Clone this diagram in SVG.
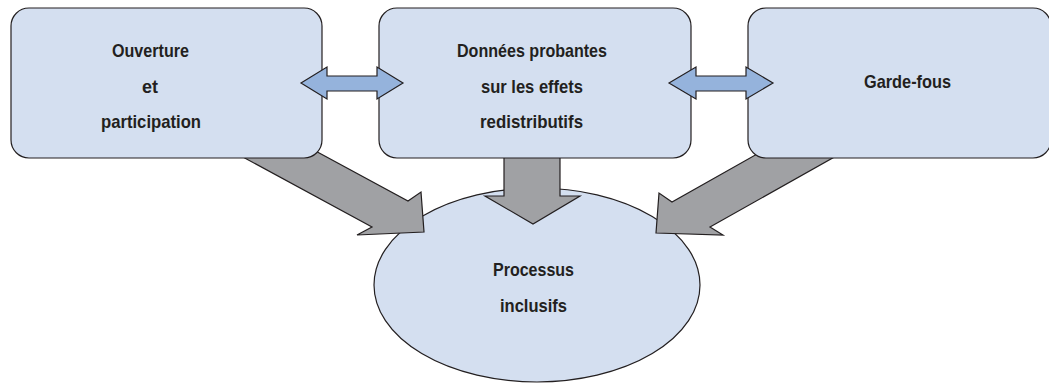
<svg xmlns="http://www.w3.org/2000/svg" width="1049" height="383" viewBox="0 0 1049 383">
  <style>
    .node { fill: #d4dff0; stroke: #231f20; stroke-width: 1.2; }
    .flow { fill: #a0a1a4; stroke: #231f20; stroke-width: 1.2; stroke-linejoin: miter; }
    .link { fill: #95b3dc; stroke: #231f20; stroke-width: 1.2; }
    .label { font-family: "Liberation Sans", Arial, sans-serif; font-weight: bold; font-size: 19px; fill: #231f20; }
  </style>
  <rect width="1049" height="383" fill="#ffffff"/>

  <g id="node-processus">
    <ellipse class="node" cx="537" cy="285" rx="163" ry="97"/>
  </g>

  <g id="connectors">
    <path class="flow" d="M310,148 L408,201 L421,192 L424,232 L357,235 L372,227 L230,150 Z"/>
    <path class="flow" d="M504,150 L504,196 L485,196 L533,224 L580,196 L560,196 L560,150 Z"/>
    <path class="flow" d="M765,149.5 L672,202 L659,193 L656,233 L723,235 L710,227 L845,151 Z"/>
  </g>

  <g id="node-ouverture">
    <rect class="node" x="11" y="8" width="311" height="150" rx="18" ry="18"/>
    <text class="label" x="112" y="57" textLength="77" lengthAdjust="spacingAndGlyphs">Ouverture</text>
    <text class="label" x="142" y="93" textLength="16" lengthAdjust="spacingAndGlyphs">et</text>
    <text class="label" x="101" y="128" textLength="100" lengthAdjust="spacingAndGlyphs">participation</text>
  </g>

  <g id="node-donnees">
    <rect class="node" x="379" y="8" width="312" height="150" rx="18" ry="18"/>
    <text class="label" x="457" y="57" textLength="150" lengthAdjust="spacingAndGlyphs">Données probantes</text>
    <text class="label" x="481" y="93" textLength="102" lengthAdjust="spacingAndGlyphs">sur les effets</text>
    <text class="label" x="480" y="128" textLength="103" lengthAdjust="spacingAndGlyphs">redistributifs</text>
  </g>

  <g id="node-gardefous">
    <rect class="node" x="748" y="8" width="303" height="150" rx="18" ry="18"/>
    <text class="label" x="864" y="88" textLength="87" lengthAdjust="spacingAndGlyphs">Garde-fous</text>
  </g>

  <g id="node-processus-label">
    <text class="label" x="493" y="276" textLength="81" lengthAdjust="spacingAndGlyphs">Processus</text>
    <text class="label" x="500" y="312" textLength="67" lengthAdjust="spacingAndGlyphs">inclusifs</text>
  </g>

  <g id="links">
    <path class="link" d="M301,83 L327,67 L327,76 L377,76 L377,67 L403,83 L377,99 L377,91 L327,91 L327,99 Z"/>
    <path class="link" d="M669,83 L696,67 L696,76 L746,76 L746,67 L773,83 L746,99 L746,91 L696,91 L696,99 Z"/>
  </g>
</svg>
